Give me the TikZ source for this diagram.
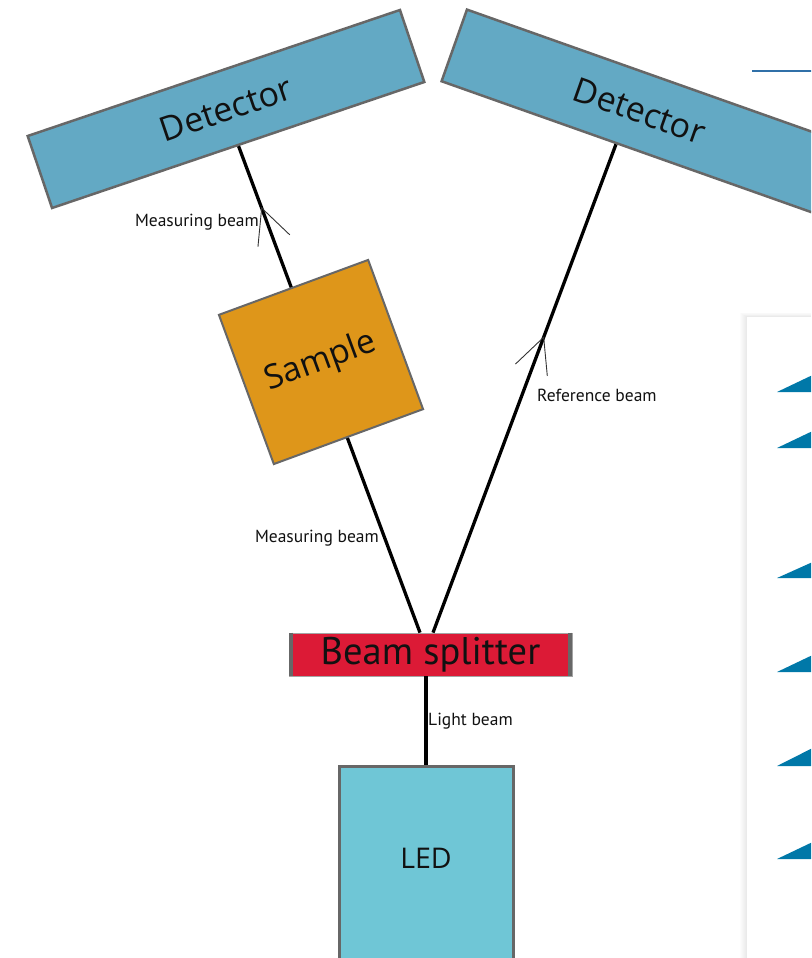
\documentclass[tikz,border=0pt]{standalone}
\usepackage{fontspec}
\setmainfont{Open Sans}
\newfontfamily\labfont{PT Sans}
\usetikzlibrary{calc,decorations.markings}
\definecolor{detblue}{HTML}{63A9C4}
\definecolor{sampleorange}{HTML}{DE961A}
\definecolor{splitred}{HTML}{DC1A36}
\definecolor{ledblue}{HTML}{6FC6D6}
\definecolor{bordergray}{HTML}{676767}
\definecolor{triblue}{HTML}{0078A8}
\definecolor{lineblue}{HTML}{3070A8}
\definecolor{txt}{HTML}{111111}
\begin{document}
\begin{tikzpicture}[x=1pt,y=-1pt,
  detector/.style={draw=bordergray, line width=2.5pt, fill=detblue, minimum width=393pt, minimum height=76pt, inner sep=0pt, font=\fontsize{34}{38}\selectfont, text=txt},
  samplebox/.style={draw=bordergray, line width=2pt, fill=sampleorange, minimum width=159pt, minimum height=159pt, inner sep=0pt, font=\fontsize{33.5}{38}\selectfont, text=txt},
  splitter/.style={draw=bordergray!60, line width=0.8pt, fill=splitred, minimum width=283pt, minimum height=43pt, inner sep=0pt, font=\labfont\fontsize{38.5}{42}\selectfont, text=txt},
  ledbox/.style={draw=bordergray, line width=3pt, fill=ledblue, minimum width=174pt, minimum height=200pt, inner sep=0pt},
  lab/.style={inner sep=0pt, font=\labfont\fontsize{17.5}{19}\selectfont, text=txt},
  beam/.style={line width=3.3pt, black},
  arm/.style={line width=0.9pt, black!80},
  midarrow/.style={postaction={decorate, decoration={markings, mark=at position #1 with {\draw[arm] (-35pt,17pt) -- (0pt,0pt) -- (-35pt,-17pt);}}}}
]
\useasboundingbox (0,0) rectangle (811,958);
\clip (0,0) rectangle (811,958);
% right panel with soft shadow
\foreach \i in {1,...,7}{
  \fill[black, opacity=0.012] (747-\i,317-0.6*\i) rectangle (812,960);
}
\fill[white] (747,317) rectangle (812,960);
\foreach \t/\b in {376/392, 432/448, 563/578, 656/672, 749/766, 843/859}{
  \fill[triblue] (777,\b) -- (812,\t-0.7) -- (812,\b) -- cycle;
}
\draw[lineblue, line width=1.5pt] (752,71) -- (812,71);
% components
\node[detector, rotate=18.7] (det1) at (226,109) {Detector};
\node[detector, rotate=-19.5] (det2) at (639.5,111) {Detector};
\node[splitter] (bs) at (430.5,654.5) {Beam splitter};
\draw[bordergray, line width=4pt] ([xshift=2pt]bs.north west) -- ([xshift=2pt]bs.south west);
\draw[bordergray, line width=4pt] ([xshift=-2pt]bs.north east) -- ([xshift=-2pt]bs.south east);
\node[ledbox] (led) at (426,866) {};
\node[font=\fontsize{28.5}{32}\selectfont, text=txt] (ledlbl) at ([yshift=8pt]led.center) {LED};
% beams
\coordinate (reftop) at ($(det2.south west)!0.472!(det2.south east)$);
\draw[beam, midarrow=0.873] ([xshift=-10.5pt]bs.north) -- (det1.south);
\draw[beam, midarrow=0.605] ([xshift=2.5pt]bs.north) -- (reftop);
\draw[beam] (led.north) -- (led.north |- bs.south);
% sample over the beam
\node[samplebox, rotate=20.2] (sample) at (321,362) {Sample};
% labels
\node[lab, anchor=east] (ml1) at (259,222) {Measuring beam};
\node[lab, anchor=east] (ml2) at (379,538) {Measuring beam};
\node[lab, anchor=west] (rl) at (537,395) {Reference beam};
\node[lab, anchor=west] (ll) at (428,721) {Light beam};
\end{tikzpicture}
\end{document}
